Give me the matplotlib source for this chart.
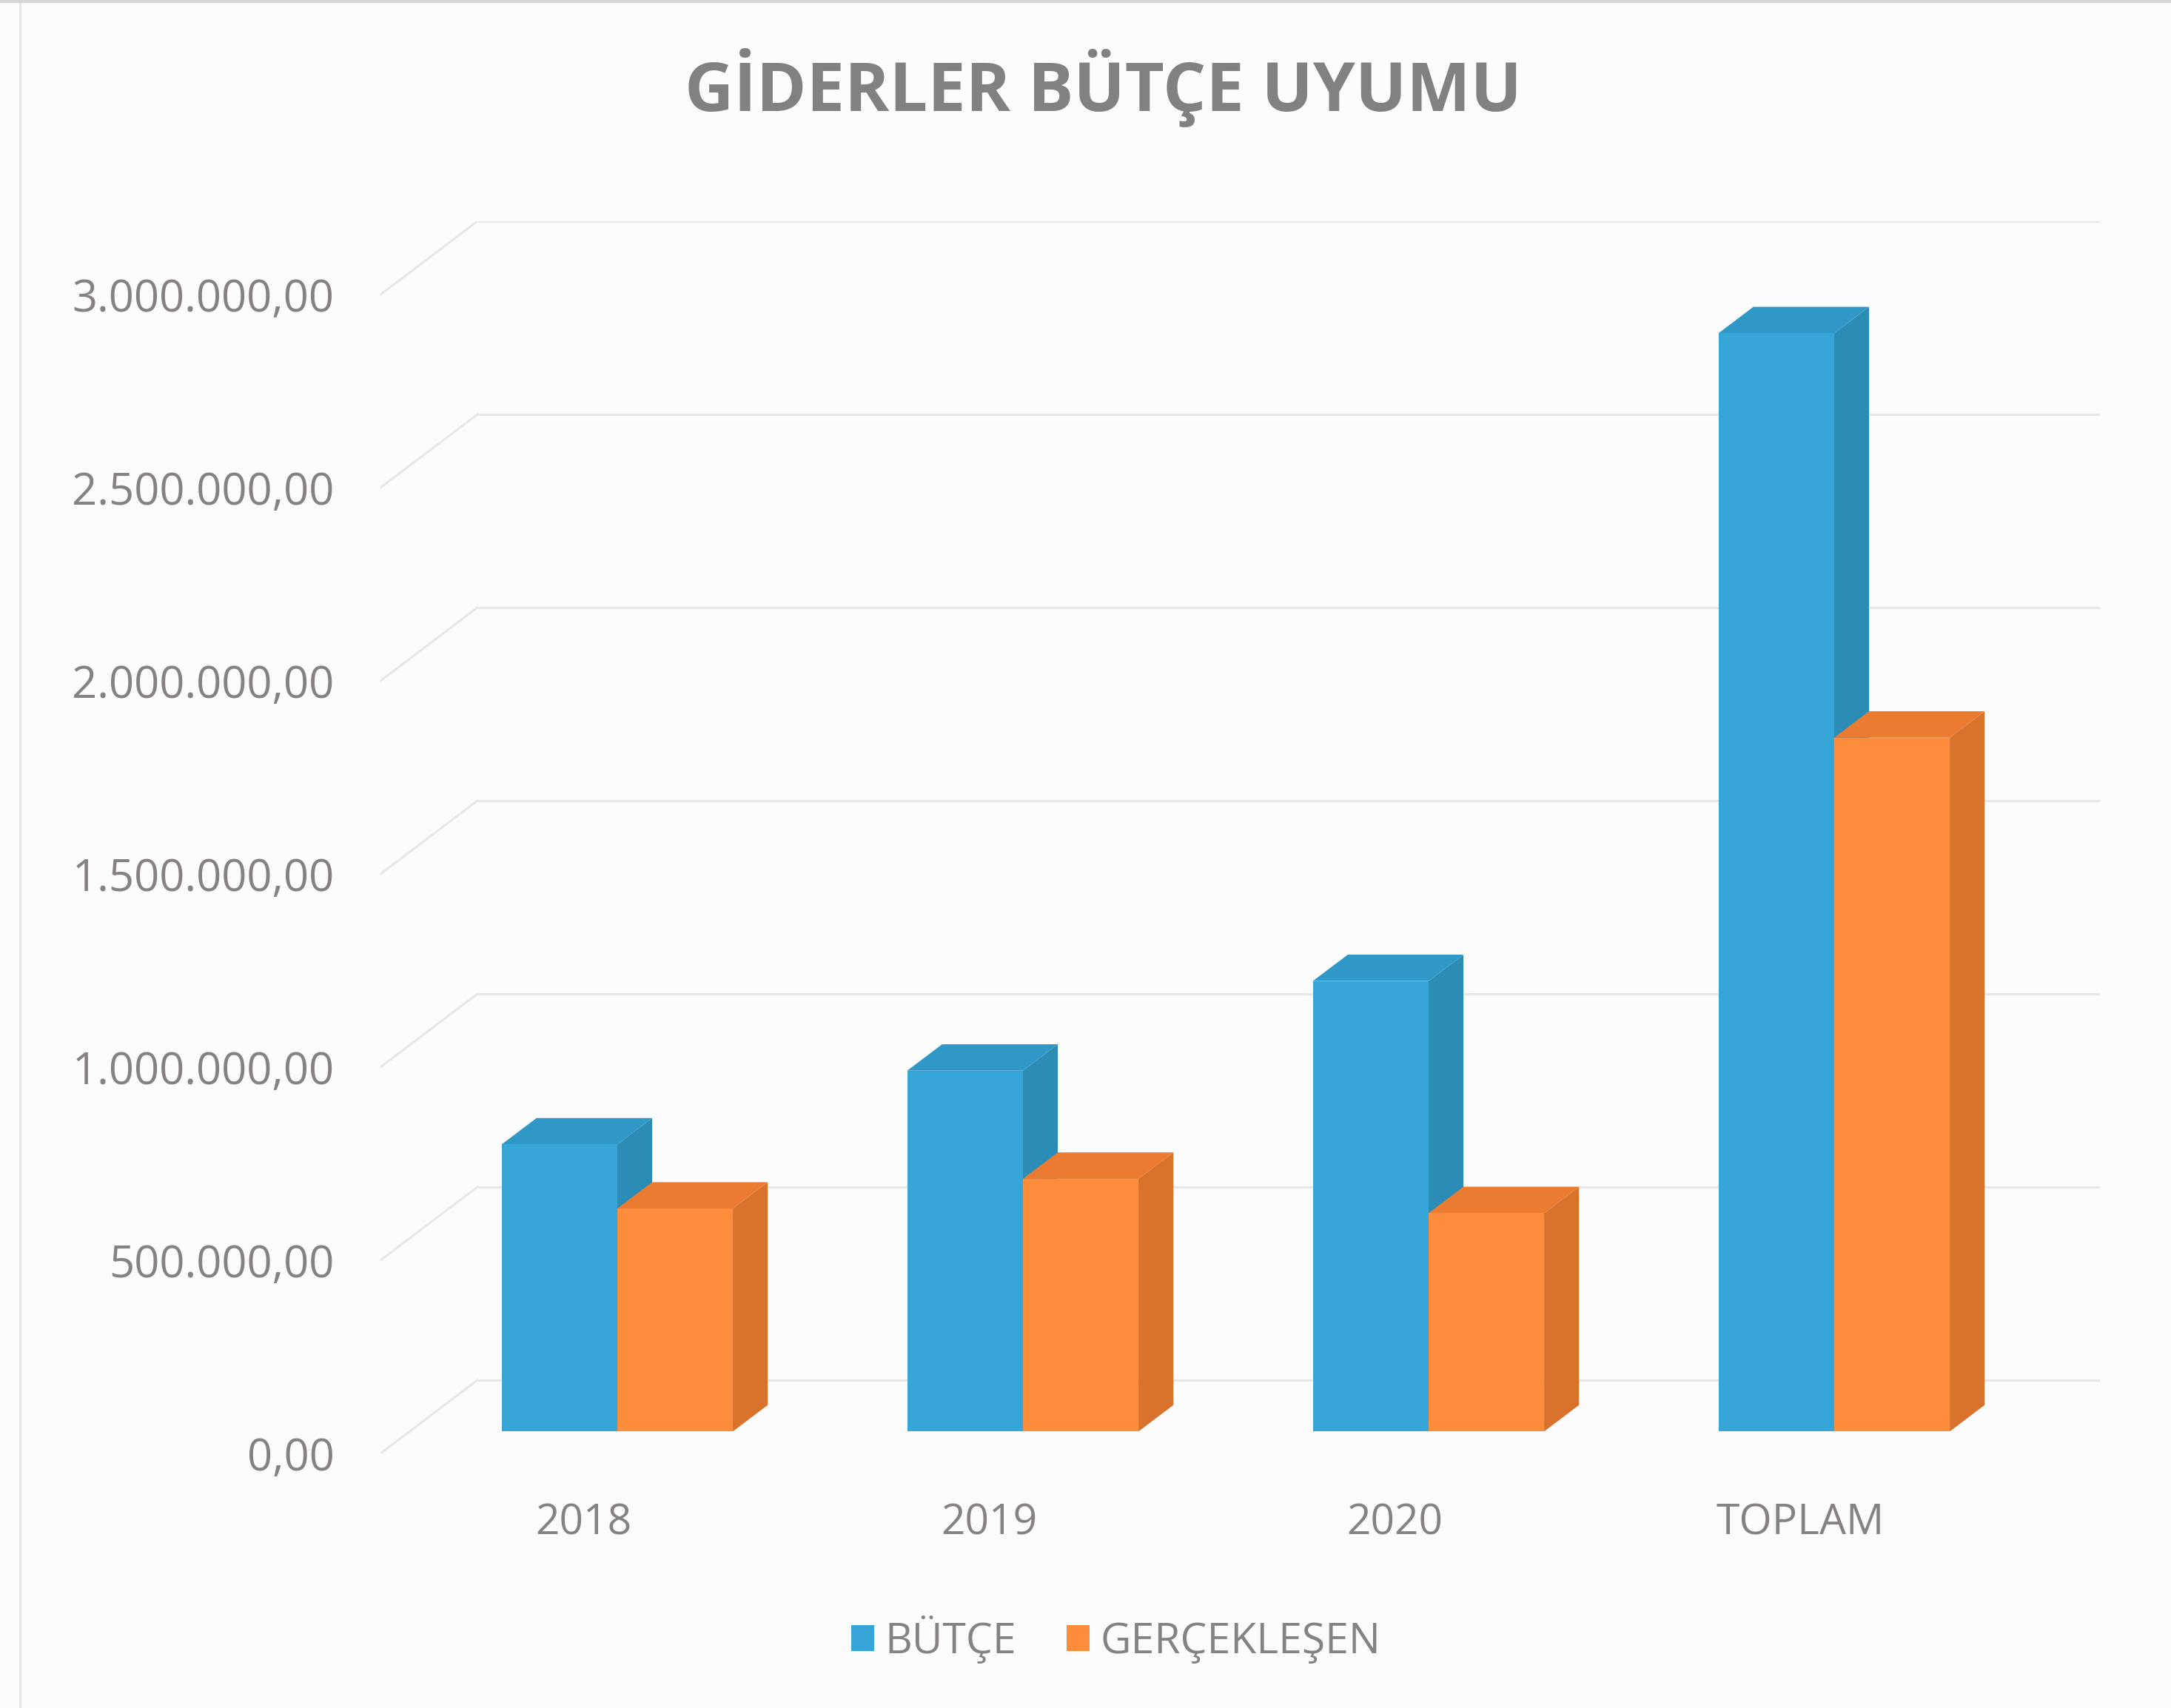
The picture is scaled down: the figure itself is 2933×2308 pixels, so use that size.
import matplotlib
matplotlib.use('Agg')
import matplotlib.pyplot as plt
from matplotlib.patches import Polygon, Patch

# ========== 数据 ==========
categories = ['2018', '2019', '2020', 'TOPLAM']
butce = [743000, 934000, 1166000, 2843000]
gerceklesen = [577000, 654000, 565000, 1796000]
y_ticks = [0, 500000, 1000000, 1500000, 2000000, 2500000, 3000000]
series_names = ['BÜTÇE', 'GERÇEKLEŞEN']


def tr_fmt(v):
    s = f"{v:,.2f}"
    return s.replace(',', 'X').replace('.', ',').replace('X', '.')


plt.rcParams['font.family'] = ['Open Sans', 'DejaVu Sans']

W, H = 2933, 2308
fig = plt.figure(figsize=(W / 100, H / 100), dpi=100, facecolor='#fdfcfc')

# 3D 斜投影参数 (数据单位)
DDX = 0.239          # 整个深度的水平偏移 (类别单位)
DDY = 189655         # 整个深度的竖直偏移 (数值单位)
D0, D1 = 0.30, 0.66  # 柱子的前后深度

# 坐标轴位置 (像素)
left_px, right_px = 514, 2837
bottom_px = H - 1964
height_px = 1665
ax = fig.add_axes([left_px / W, bottom_px / H, (right_px - left_px) / W, height_px / H])
ax.set_facecolor('none')
ax.set_xlim(-0.5, 3.5 + DDX)
ax.set_ylim(0, 3000000 + DDY)

grid_c = '#ebe6e6'
for v in y_ticks:
    # 背面网格线
    ax.plot([-0.5 + DDX, 3.5 + DDX], [v + DDY, v + DDY], color=grid_c, lw=2.2, zorder=0)
    # 左侧斜线
    ax.plot([-0.5, -0.5 + DDX], [v, v + DDY], color=grid_c, lw=2.2, zorder=0)

colors = [('#36a6d8', '#2b8db6', '#2f98c6'),
          ('#fd8d3a', '#d9722a', '#ea7b30')]

bw = 0.285
shift = D0 * DDX + 0.012
b0 = D0 * DDY
dx = (D1 - D0) * DDX
dy = (D1 - D0) * DDY

for i in range(len(categories)):
    for k, vals in enumerate([butce, gerceklesen]):
        front, side, top_c = colors[k]
        xc = i + shift + (k - 0.5) * bw
        xl, xr = xc - bw / 2, xc + bw / 2
        v = vals[i]
        ax.bar(xc, v, width=bw, bottom=b0, color=front, linewidth=0, zorder=3 + 3 * k)
        top = b0 + v
        ax.add_patch(Polygon([(xr, b0), (xr + dx, b0 + dy), (xr + dx, top + dy), (xr, top)],
                             closed=True, facecolor=side, edgecolor='none', zorder=2 + 3 * k))
        ax.add_patch(Polygon([(xl, top), (xl + dx, top + dy), (xr + dx, top + dy), (xr, top)],
                             closed=True, facecolor=top_c, edgecolor='none', zorder=2 + 3 * k))

txt_c = '#878282'
ax.set_yticks(y_ticks)
ax.set_yticklabels([tr_fmt(v) for v in y_ticks], fontsize=43, color=txt_c)
ax.set_xticks(range(len(categories)))
ax.set_xticklabels(categories, fontsize=41, color=txt_c)
ax.tick_params(axis='y', length=0, pad=45)
ax.tick_params(axis='x', length=0, pad=48)
for s in ax.spines.values():
    s.set_visible(False)

fig.text(0.508, 1 - 118 / H, 'GİDERLER BÜTÇE UYUMU', ha='center', va='center',
         fontsize=66, fontweight='bold', color='#828080')

handles = [Patch(facecolor=colors[0][0]), Patch(facecolor=colors[1][0])]
fig.legend(handles, series_names, loc='center', bbox_to_anchor=(0.514, 1 - 2215 / H),
           ncol=2, frameon=False, fontsize=41, labelcolor=txt_c,
           handlelength=0.55, handleheight=0.55, handletextpad=0.25, columnspacing=1.2)

# 扫描边框
fig.add_artist(plt.Line2D([27 / W, 27 / W], [0, 1], color='#e6e3e3', lw=2))
fig.add_artist(plt.Line2D([0, 1], [1 - 2 / H, 1 - 2 / H], color='#d8d5d5', lw=3))

fig.savefig('out.png', dpi=100, facecolor=fig.get_facecolor())
